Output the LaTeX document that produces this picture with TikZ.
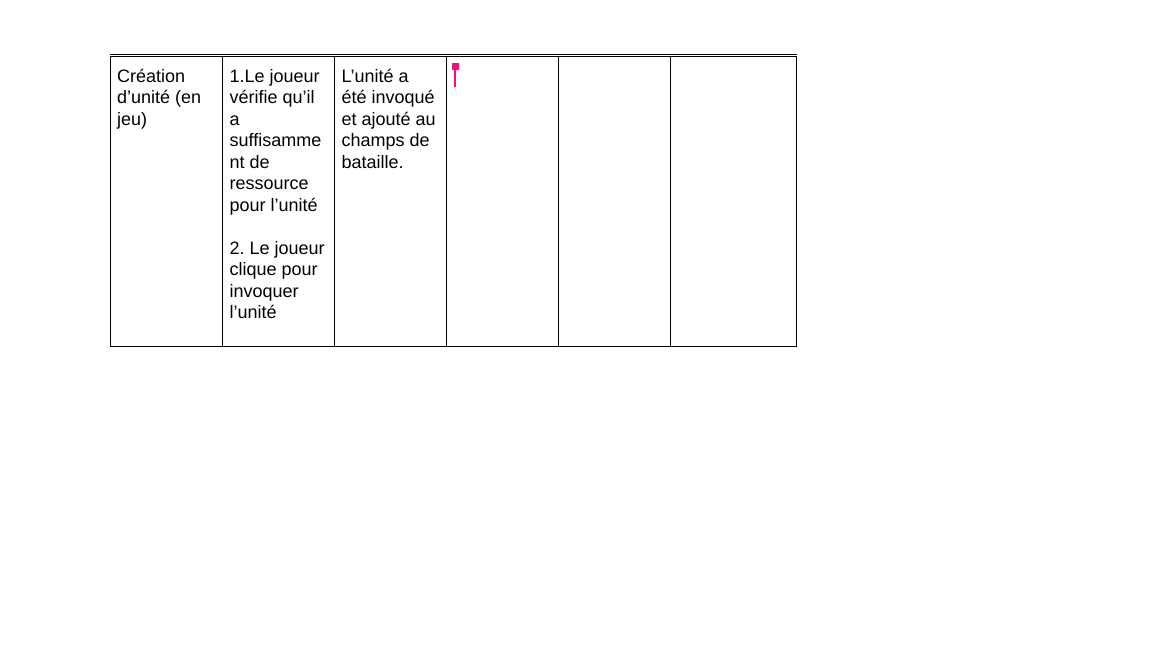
\documentclass[tikz,border=0pt]{standalone}
\usepackage{fontspec}
\setmainfont{Liberation Sans}
\usepackage{xcolor}
\definecolor{markpink}{HTML}{FF0A7D}
\frenchspacing

\begin{document}
\begin{tikzpicture}[
    x=1pt, y=-1pt,
    cell/.style={anchor=north west, inner sep=0pt, align=left, font=\fontsize{18}{21.5}\selectfont},
    rule/.style={line width=1pt, black},
    marker/.style={markpink, line width=2pt}
]
\useasboundingbox (0,0) rectangle (1152,648);

% Table frame
\draw[rule] (110,54.7) -- (796.5,54.7);
\draw[gray, line width=0.8pt, dotted] (110,56.3) -- (797,56.3);
\draw[rule] (110,56.5) rectangle (796.5,346.5);
\foreach \x in {222.5,334.5,446.5,558.5,670.5}
  \draw[rule] (\x,56.5) -- (\x,346.5);

% Cell texts
\node[cell] (action) at (117,69) {Création\\d’unité (en\\jeu)};
\node[cell] (steps) at (229.5,69) {1.Le joueur\\vérifie qu’il\\a\\suffisamme\\nt de\\ressource\\pour l’unité\\[21.5pt]2. Le joueur\\clique pour\\invoquer\\l’unité};
\node[cell] (result) at (341.5,69) {L’unité a\\été invoqué\\et ajouté au\\champs de\\bataille.};

% Comment marker
\fill[markpink] (452,63) rectangle (458.5,69.5);
\draw[marker] (455.2,69) -- (455.2,87);

\end{tikzpicture}
\end{document}
